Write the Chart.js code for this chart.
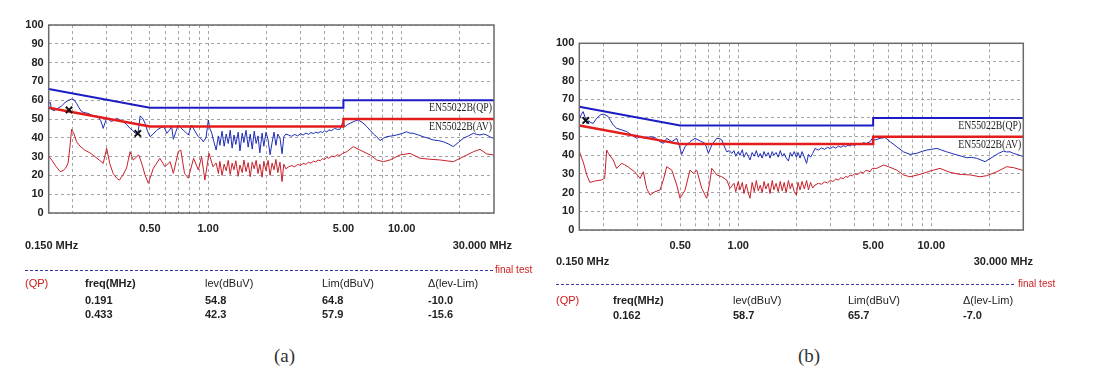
<!DOCTYPE html>
<html><head><meta charset="utf-8">
<script src="https://cdn.jsdelivr.net/npm/chart.js@4.4.1/dist/chart.umd.min.js"></script>
<style>
body{margin:0;background:#fff;width:1098px;height:377px;overflow:hidden;position:relative;font-family:"Liberation Sans",Arial,sans-serif;}
canvas{position:absolute;}
.t{position:absolute;font-size:11px;line-height:12px;color:#222;white-space:nowrap;}
.b{font-weight:bold;}
.red{color:#d01818;}
.ft{font-size:10px;color:#d02020;}
.dash{position:absolute;height:1px;background:repeating-linear-gradient(to right,#3a3aa8 0 3px,transparent 3px 5px);}
.cap{position:absolute;font-family:"Liberation Serif",serif;font-size:19px;line-height:22px;color:#333;}
</style></head><body>
<canvas id="ca" width="530" height="240" style="left:0;top:0"></canvas>
<canvas id="cb" width="530" height="240" style="left:530px;top:18px"></canvas>
<div id="txt"></div>
<script>
// ---------- data ----------
const gridFreqs = [0.2,0.3,0.4,0.5,0.6,0.7,0.8,0.9,1,2,3,4,5,6,7,8,9,10,20];
const xTickValues = [0.5, 1, 5, 10];
const xTickLabels = ['0.50', '1.00', '5.00', '10.00'];
const yTicks = [0,10,20,30,40,50,60,70,80,90,100];
const limitFreq = [0.15, 0.5, 5, 5, 30];
const qpLimit = [66, 56, 56, 60, 60];
const avLimit = [56, 46, 46, 50, 50];
const qpLimitName = 'EN55022B(QP)';
const avLimitName = 'EN55022B(AV)';

const aQpFreq = [0.150,0.153,0.155,0.160,0.168,0.175,0.182,0.190,0.197,0.203,0.209,0.215,0.222,0.231,0.240,0.255,0.265,0.271,0.279,0.287,
0.293,0.299,0.308,0.317,0.327,0.337,0.350,0.364,0.380,0.395,0.407,0.419,0.433,0.440,0.445,0.458,0.472,0.486,0.501,0.520,
0.542,0.565,0.587,0.600,0.611,0.630,0.648,0.661,0.680,0.701,0.720,0.744,0.765,0.790,0.822,0.855,0.890,0.920,0.944,0.975,
1.002,1.020,1.044,1.070,
1.10,1.13,1.15,1.18,1.21,1.24,1.27,1.30,1.33,1.36,1.39,1.43,1.46,1.50,1.53,1.57,1.61,1.65,1.69,1.73,
1.77,1.81,1.85,1.90,1.94,1.99,2.04,2.09,2.14,2.19,2.24,2.29,2.35,2.41,2.46,2.52,
2.6,2.7,2.8,2.9,3.0,3.1,3.2,3.3,3.4,3.5,3.6,3.7,3.8,3.9,4.0,4.1,4.2,4.35,4.5,4.65,4.8,4.95,
5.10,5.25,5.41,5.7,5.97,6.31,6.6,6.87,7.15,7.43,7.73,8.05,8.37,8.9,9.43,10.0,10.6,11.0,11.5,12.2,
12.9,13.7,14.6,15.5,16.4,17.4,18.5,19.6,20.8,22.1,23.5,24.4,25.4,26.5,27.5,28.6,29.8,30.0];
const aQpLevel = [58.5,58.8,55.0,54.5,55.8,57.0,58.7,60.0,60.6,60.2,58.3,56.0,53.9,53.3,53.0,51.6,51.5,51.2,49.0,45.0,
48.0,50.4,49.5,48.6,49.5,50.4,49.5,48.6,47.0,45.0,44.0,42.5,42.3,47.0,51.6,50.5,47.7,43.5,40.6,42.0,
44.0,45.2,45.9,44.5,42.4,44.0,45.9,39.2,43.0,46.8,45.5,44.0,43.0,41.5,46.8,43.5,40.6,39.5,37.9,40.0,
49.5,45.0,42.5,38.0,
33.5,41.0,36.0,43.5,35.5,42.0,37.0,44.0,34.5,41.5,36.5,43.0,33.0,42.5,37.5,44.0,35.0,42.0,34.0,43.5,
37.0,41.0,32.0,42.5,35.5,43.0,39.0,31.0,37.5,43.0,36.0,42.0,40.0,31.5,40.5,42.0,
41.5,40.8,41.8,41.0,42.2,41.5,42.5,41.8,42.8,42.2,43.0,42.5,43.3,42.8,43.8,43.0,44.2,43.8,45.0,44.5,44.5,48.0,
46.0,47.0,47.7,48.8,49.5,47.9,46.0,44.0,42.0,40.6,38.5,39.8,40.6,41.0,41.5,42.2,43.2,42.5,42.4,41.5,
40.6,39.8,38.8,38.5,37.9,36.8,35.3,37.5,39.7,41.0,42.4,41.8,41.5,42.0,41.5,40.5,39.7,39.5];

const aAvFreq = [0.150,0.156,0.163,0.172,0.178,0.184,0.189,0.193,0.197,0.203,0.209,0.218,0.230,0.245,0.260,0.275,0.287,0.299,0.310,0.323,
0.337,0.348,0.363,0.379,0.395,0.410,0.438,0.455,0.472,0.491,0.521,0.563,0.598,0.636,0.661,0.701,0.722,0.755,0.790,0.841,
0.890,0.925,0.962,1.01,1.06,
1.10,1.13,1.15,1.18,1.21,1.24,1.27,1.30,1.33,1.36,1.39,1.43,1.46,1.50,1.53,1.57,1.61,1.65,1.69,1.73,
1.77,1.81,1.85,1.90,1.94,1.99,2.04,2.09,2.14,2.19,2.24,2.29,2.35,2.41,2.46,2.52,
2.6,2.7,2.8,2.9,3.0,3.1,3.2,3.3,3.4,3.5,3.6,3.7,3.8,3.9,4.0,4.1,4.2,4.35,4.5,4.65,4.8,4.95,
5.2,5.63,6.09,6.87,7.43,8.04,8.70,9.81,11.05,12.45,14.0,15.8,17.0,18.5,20.8,23.5,25.4,27.5,29.8,30.0];
const aAvLevel = [30.3,28.0,25.0,22.0,22.6,24.0,26.6,35.0,44.5,42.0,37.9,35.5,33.5,32.0,30.0,28.0,26.4,34.4,26.4,21.0,
18.5,17.5,20.2,24.0,32.6,28.2,30.9,26.0,20.2,15.8,23.8,29.1,24.6,27.3,21.1,32.6,33.5,21.1,18.5,29.1,
22.9,30.0,17.5,31.7,24.6,
26.6,21.0,27.5,20.0,26.0,22.5,28.0,20.5,26.5,23.0,27.8,19.5,25.5,21.5,28.2,22.0,26.8,19.3,27.0,23.5,
28.0,21.0,26.0,19.0,27.5,22.5,28.0,20.0,26.5,23.0,28.5,21.5,27.0,16.7,26.0,23.5,
24.5,25.2,24.6,25.8,25.3,26.4,25.9,27.0,26.5,27.6,27.2,28.2,27.8,28.9,28.4,29.6,29.1,30.3,29.9,31.0,30.6,31.7,
32.6,35.3,33.5,30.9,28.2,27.3,28.2,30.9,31.7,29.1,28.6,28.2,27.8,27.3,29.9,32.6,33.9,31.4,30.9,30.8];

const bQpFreq = [0.150,0.151,0.154,0.157,0.160,0.162,0.164,0.168,0.172,0.177,0.182,0.188,0.194,0.200,0.206,0.212,0.218,0.225,0.234,0.249,
0.264,0.280,0.298,0.310,0.329,0.349,0.370,0.393,0.409,0.426,0.452,0.480,0.495,0.509,0.530,0.562,0.597,0.634,0.673,0.700,
0.729,0.773,0.800,0.821,0.845,0.871,0.900,0.925,
0.95,0.97,1.00,1.02,1.05,1.07,1.10,1.12,1.15,1.18,1.21,1.24,1.27,1.30,1.33,1.36,1.39,1.43,1.46,1.50,
1.53,1.57,1.61,1.65,1.69,1.73,1.77,1.82,1.86,1.90,1.95,2.00,2.04,2.09,2.14,2.20,2.26,2.31,2.37,2.43,
2.50,2.60,2.70,2.80,2.90,3.00,3.10,3.20,3.30,3.40,3.50,3.60,3.70,3.80,3.90,4.00,4.15,4.30,4.45,4.60,4.82,
4.95,5.12,5.43,5.77,6.12,6.63,7.17,7.77,8.42,9.0,9.48,10.0,10.7,11.3,12.0,12.8,13.6,14.4,15.3,16.2,
17.2,18.1,19.0,20.0,21.0,22.3,23.7,24.6,25.6,26.7,27.8,28.7,29.5,30.0];
const bQpLevel = [59.5,60.0,62.0,63.4,61.0,58.7,57.1,58.5,57.5,57.1,59.0,60.7,61.8,62.0,61.5,60.7,58.5,56.2,54.5,53.6,
52.7,50.9,49.1,50.0,49.1,50.0,49.5,47.3,46.4,49.1,47.3,49.1,45.0,40.5,44.6,47.3,49.1,47.7,46.4,41.1,
45.5,49.1,49.0,48.2,45.0,41.9,42.5,41.0,
42.5,39.5,42.0,40.0,43.0,39.0,41.5,40.0,37.5,41.5,39.5,42.5,39.0,41.0,38.5,42.0,39.5,41.5,38.5,42.0,
40.0,41.5,39.0,42.5,39.5,41.0,38.5,37.0,41.5,39.5,42.0,39.0,41.5,38.5,42.0,39.0,35.7,40.5,39.0,41.0,
43.7,42.8,44.0,43.2,44.3,43.6,44.6,43.9,44.9,44.3,45.2,44.6,45.5,45.0,45.8,45.3,46.2,45.7,46.8,46.3,47.3,
49.1,48.2,49.1,49.5,47.3,44.6,41.9,40.5,41.1,42.2,42.8,43.2,43.7,42.8,41.9,41.0,40.2,39.5,38.7,38.9,
38.4,37.5,36.6,38.0,39.3,41.0,42.3,41.8,41.9,41.0,40.5,40.0,39.6,39.5];

const bAvFreq = [0.150,0.151,0.157,0.164,0.170,0.180,0.196,0.203,0.208,0.212,0.219,0.225,0.234,0.249,0.257,0.268,0.290,0.310,0.322,0.335,
0.349,0.370,0.393,0.409,0.426,0.452,0.480,0.499,0.530,0.562,0.585,0.609,0.647,0.686,0.710,0.729,0.773,0.821,0.871,0.906,
0.95,0.97,1.00,1.02,1.05,1.07,1.10,1.12,1.15,1.18,1.21,1.24,1.27,1.30,1.33,1.36,1.39,1.43,1.46,1.50,
1.53,1.57,1.61,1.65,1.69,1.73,1.77,1.82,1.86,1.90,1.95,2.00,2.04,2.09,2.14,2.20,2.26,2.31,2.37,2.43,
2.50,2.60,2.70,2.80,2.90,3.00,3.10,3.20,3.30,3.40,3.50,3.60,3.70,3.80,3.90,4.00,4.15,4.30,4.45,4.60,4.82,
4.95,5.22,5.65,6.00,6.63,7.17,7.77,8.76,9.87,11.1,12.5,14.1,15.9,17.9,19.4,21.9,24.6,26.7,29.5,30.0];
const bAvLevel = [41.5,41.1,36.6,29.5,25.5,26.2,26.8,27.7,42.8,41.1,39.0,37.5,33.0,35.7,35.0,33.9,31.2,27.7,31.2,22.3,
18.7,20.5,21.4,26.8,33.9,32.1,24.1,17.0,21.4,32.1,30.4,32.1,22.3,17.0,25.0,33.0,29.5,28.5,26.8,22.3,
25.0,20.5,26.0,21.5,25.5,19.5,24.5,21.0,17.0,25.5,20.5,26.5,21.0,24.0,20.0,26.0,22.0,25.0,19.5,26.5,
21.5,25.0,20.5,26.0,21.0,25.5,20.0,26.5,22.0,25.0,20.5,18.7,25.5,21.5,26.0,22.0,26.5,21.5,25.5,22.5,
24.1,25.0,24.5,25.8,25.2,26.6,26.0,27.3,26.8,28.0,27.5,28.7,28.2,29.4,29.0,30.1,29.7,31.0,30.6,32.0,31.2,
33.0,33.0,34.8,33.9,32.1,29.5,28.5,29.8,31.6,33.0,30.9,29.8,29.5,28.5,29.1,31.2,33.9,33.4,32.1,32.0];

const aMarkFreq = [0.191, 0.433];
const aMarkLevel = [54.8, 42.3];
const bMarkFreq = [0.162];
const bMarkLevel = [58.7];

const tableHeader = ['freq(MHz)', 'lev(dBuV)', 'Lim(dBuV)', '\u0394(lev-Lim)'];
const aRows = [['0.191','54.8','64.8','-10.0'], ['0.433','42.3','57.9','-15.6']];
const bRows = [['0.162','58.7','65.7','-7.0']];

// ---------- charts ----------
function pairs(fs, ls){ return fs.map((f,i)=>({x:f, y:ls[i]})); }
const tickFont = {family:'"Liberation Sans", Arial, sans-serif', size:11, weight:'bold'};

const framePlugin = {
  id:'frame',
  afterDraw(chart){
    const {ctx, chartArea:a} = chart;
    const ys = chart.scales.y;
    ctx.save();
    ctx.strokeStyle = '#6a6a6a'; ctx.lineWidth = 1.5; ctx.setLineDash([]);
    ctx.strokeRect(a.left, a.top, a.right - a.left, a.bottom - a.top);
    ctx.fillStyle = '#222';
    ctx.font = '12px "Liberation Serif", serif';
    ctx.textAlign = 'right'; ctx.textBaseline = 'middle';
    ctx.fillText(qpLimitName, a.right - 2, ys.getPixelForValue(qpLimit[4]) + 8, 63);
    ctx.fillText(avLimitName, a.right - 2, ys.getPixelForValue(avLimit[4]) + 8, 63);
    ctx.restore();
  }
};

function makeChart(id, c){
  const datasets = [
    {label:'marks', data:pairs(c.markF, c.markL), showLine:false, pointStyle:'crossRot', pointRadius:4.5, pointBorderWidth:2, borderColor:'#111', backgroundColor:'#111'},
    {label:'QP limit', data:pairs(limitFreq, qpLimit), borderColor:'#1c1cc4', borderWidth:2, pointRadius:0},
    {label:'AV limit', data:pairs(limitFreq, avLimit), borderColor:'#e41c1c', borderWidth:2.5, pointRadius:0},
    {label:'QP', data:pairs(c.qpF, c.qpL), borderColor:'#1f2cb8', borderWidth:1, pointRadius:0},
    {label:'AV', data:pairs(c.avF, c.avL), borderColor:'#c8202c', borderWidth:1, pointRadius:0}
  ];
  return new Chart(document.getElementById(id), {
    type:'line',
    data:{datasets},
    plugins:[framePlugin],
    options:{
      responsive:false, animation:false, devicePixelRatio:1,
      layout:{padding:{left:0, top:c.top, right:c.right, bottom:0}},
      plugins:{legend:{display:false}, tooltip:{enabled:false}},
      scales:{
        x:{type:'logarithmic', min:0.15, max:30,
          afterBuildTicks:s=>{ s.ticks = gridFreqs.map(v=>({value:v})); },
          afterFit:s=>{ s.height = c.xh; },
          ticks:{autoSkip:false, maxRotation:0, minRotation:0, padding:9, color:'#222', font:tickFont,
            callback:(v)=>{ const i = xTickValues.indexOf(v); return i >= 0 ? xTickLabels[i] : ''; }},
          grid:{color:'#a4a4a4', lineWidth:1, drawTicks:false},
          border:{display:false, dash:[3,3]}
        },
        y:{min:0, max:100,
          afterBuildTicks:s=>{ s.ticks = yTicks.map(v=>({value:v})); },
          afterFit:s=>{ s.width = c.yw; },
          ticks:{padding:5, color:'#222', font:tickFont},
          grid:{color:'#a4a4a4', lineWidth:1, drawTicks:false},
          border:{display:false, dash:[3,3]}
        }
      }
    }
  });
}

makeChart('ca', {qpF:aQpFreq, qpL:aQpLevel, avF:aAvFreq, avL:aAvLevel, markF:aMarkFreq, markL:aMarkLevel,
  yw:48.7, top:25, right:36, xh:27});
makeChart('cb', {qpF:bQpFreq, qpL:bQpLevel, avF:bAvFreq, avL:bAvLevel, markF:bMarkFreq, markL:bMarkLevel,
  yw:49.3, top:25.3, right:36.7, xh:28});

// ---------- text blocks ----------
const host = document.getElementById('txt');
function put(text, x, cy, cls, right){
  const d = document.createElement('div');
  d.className = 't ' + (cls || '');
  d.textContent = text;
  d.style.top = (cy - 6) + 'px';
  if (right) { d.style.left = x + 'px'; d.style.transform = 'translateX(-100%)'; }
  else d.style.left = x + 'px';
  host.appendChild(d);
}
function dash(x1, x2, y){
  const d = document.createElement('div');
  d.className = 'dash';
  d.style.left = x1 + 'px'; d.style.width = (x2 - x1) + 'px'; d.style.top = y + 'px';
  host.appendChild(d);
}
function caption(text, cx, cy){
  const d = document.createElement('div');
  d.className = 'cap'; d.textContent = text;
  d.style.left = (cx - 12) + 'px'; d.style.top = (cy - 11) + 'px';
  host.appendChild(d);
}
function block(o, rows){
  put('0.150 MHz', o.x0, o.mhzY, 'b');
  put('30.000 MHz', o.mhzR, o.mhzY, 'b', true);
  dash(o.x0, o.dashR, o.dashY);
  put('final test', o.dashR + 2, o.dashY, 'ft');
  put('(QP)', o.x0, o.headY, 'red');
  o.cols.forEach((cx, i) => put(tableHeader[i], cx, o.headY, i === 0 ? 'b' : ''));
  rows.forEach((r, j) => r.forEach((v, i) => put(v, o.cols[i], o.rowY[j], 'b')));
}
block({x0:25, mhzY:245, mhzR:512, dashR:493, dashY:270, headY:283, cols:[85,205,322,428], rowY:[300,314]}, aRows);
block({x0:556, mhzY:261, mhzR:1033, dashR:1016, dashY:284, headY:300, cols:[613,733,848,963], rowY:[315]}, bRows);
caption('(a)', 286, 356);
caption('(b)', 810, 356);
</script></body></html>
